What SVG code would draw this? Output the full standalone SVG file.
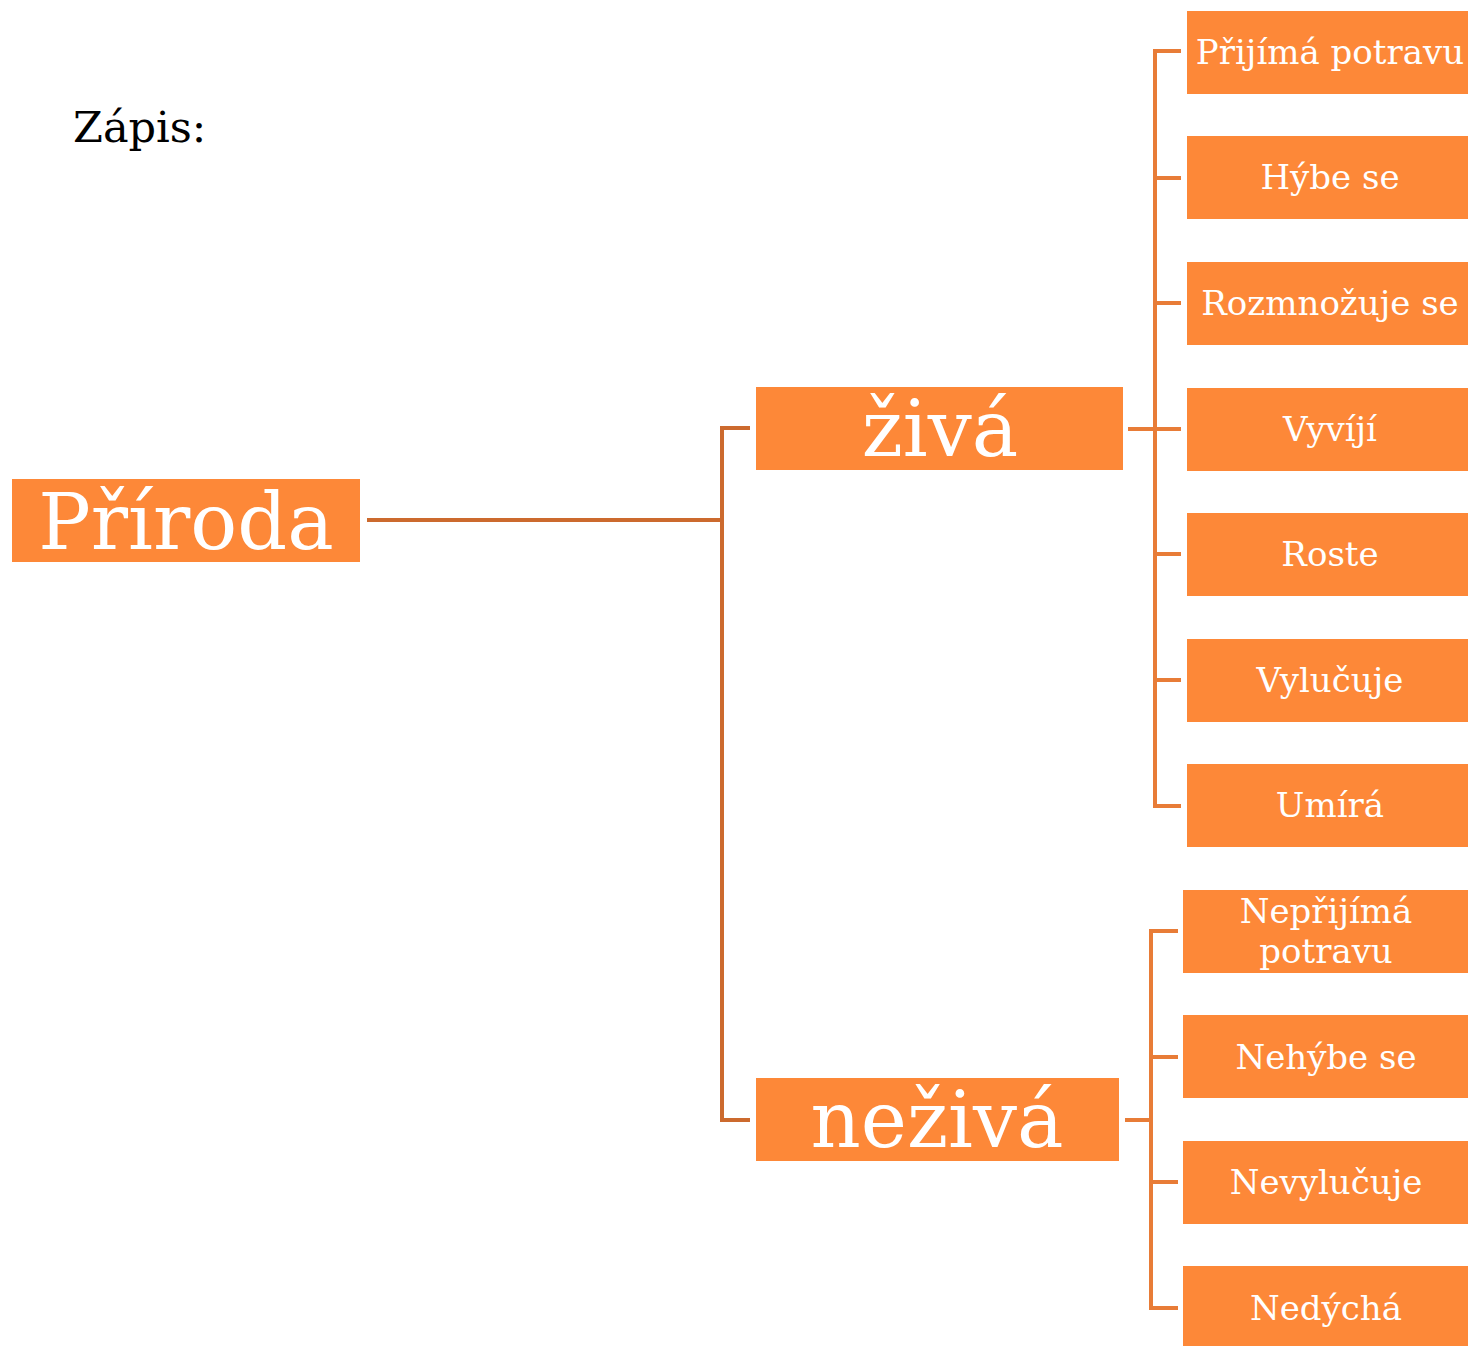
<svg xmlns="http://www.w3.org/2000/svg" width="1468" height="1346" viewBox="0 0 1468 1346">
<style>
.box{fill:#FD8838}
.t{font-family:"DejaVu Serif","Liberation Serif",serif;fill:#fff;text-anchor:middle}
.big{font-size:78px}
.sm{font-size:34px}
.c1{stroke:#CC6A2E;stroke-width:4;fill:none}
.c2{stroke:#E87C37;stroke-width:4;fill:none}
</style>
<rect width="1468" height="1346" fill="#fff"/>
<text x="73" y="142" font-family="DejaVu Serif, Liberation Serif, serif" font-size="43" fill="#000">Zápis:</text>
<g id="connectors">
<path class="c1" d="M367 520H722M750 428H722V1120H750"/>
<path class="c2" d="M1128 429H1155M1181 51H1155V806H1181M1155 178H1181M1155 303H1181M1155 429H1181M1155 554H1181M1155 680H1181"/>
<path class="c2" d="M1125 1120H1151M1178 931H1151V1308H1178M1151 1057H1178M1151 1182H1178"/>
</g>
<g id="priroda"><rect class="box" x="12" y="479" width="348" height="83"/><text class="t big" x="186" y="549">Příroda</text></g>
<g id="ziva"><rect class="box" x="756" y="387" width="367" height="83"/><text class="t big" x="940" y="456">živá</text></g>
<g id="neziva"><rect class="box" x="756" y="1078" width="363" height="83"/><text class="t big" x="937" y="1147">neživá</text></g>
<g id="l1"><rect class="box" x="1187" y="11" width="281" height="83"/><text class="t sm" x="1330" y="64">Přijímá potravu</text></g>
<g id="l2"><rect class="box" x="1187" y="136" width="281" height="83"/><text class="t sm" x="1330" y="189">Hýbe se</text></g>
<g id="l3"><rect class="box" x="1187" y="262" width="281" height="83"/><text class="t sm" x="1330" y="315">Rozmnožuje se</text></g>
<g id="l4"><rect class="box" x="1187" y="388" width="281" height="83"/><text class="t sm" x="1330" y="441">Vyvíjí</text></g>
<g id="l5"><rect class="box" x="1187" y="513" width="281" height="83"/><text class="t sm" x="1330" y="566">Roste</text></g>
<g id="l6"><rect class="box" x="1187" y="639" width="281" height="83"/><text class="t sm" x="1330" y="692">Vylučuje</text></g>
<g id="l7"><rect class="box" x="1187" y="764" width="281" height="83"/><text class="t sm" x="1330" y="817">Umírá</text></g>
<g id="n1"><rect class="box" x="1183" y="890" width="285" height="83"/><text class="t sm" x="1326" y="923">Nepřijímá</text><text class="t sm" x="1326" y="963">potravu</text></g>
<g id="n2"><rect class="box" x="1183" y="1015" width="285" height="83"/><text class="t sm" x="1326" y="1069">Nehýbe se</text></g>
<g id="n3"><rect class="box" x="1183" y="1141" width="285" height="83"/><text class="t sm" x="1326" y="1194">Nevylučuje</text></g>
<g id="n4"><rect class="box" x="1183" y="1266" width="285" height="80"/><text class="t sm" x="1326" y="1320">Nedýchá</text></g>
</svg>
